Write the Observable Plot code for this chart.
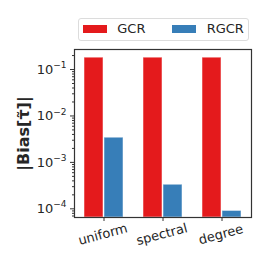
<!DOCTYPE html>
<html><head><meta charset="utf-8">
<script src="https://cdn.jsdelivr.net/npm/d3@7"></script>
<script src="https://cdn.jsdelivr.net/npm/@observablehq/plot@0.6"></script>
<style>
html,body{margin:0;padding:0;background:#fff;font-family:"DejaVu Sans",sans-serif;}
#legend{position:relative;height:45px;width:263px;}
#legend .box{position:absolute;left:77.5px;top:18px;width:171px;height:23px;border:1px solid #dcdcdc;border-radius:3px;box-sizing:border-box;}
#legend .patch{position:absolute;top:24.5px;width:24.5px;height:8px;}
#legend .lab{position:absolute;top:20.5px;font-size:13px;line-height:16px;color:#262626;}
#chart svg{display:block;}
</style>
</head><body>
<div id="legend"></div>
<div id="chart"></div>
<script>
const categories = ["uniform", "spectral", "degree"];
const series = ["GCR", "RGCR"];
const colors = ["#e41a1c", "#377eb8"];
const gcr = [0.18, 0.18, 0.18];
const rgcr = [0.0034, 0.00033, 0.00009];
const majorTicks = [1e-4, 1e-3, 1e-2, 1e-1];
const yLabel = "|Bias[τ̃]|";

const ymin = 6.5e-5, ymax = 0.27;
const rows = categories.flatMap((c, i) => [
  {category: c, series: "GCR", value: gcr[i]},
  {category: c, series: "RGCR", value: rgcr[i]}
]);

// legend
const leg = document.getElementById("legend");
const box = document.createElement("div"); box.className = "box"; leg.appendChild(box);
const lpos = [[82.7, 117.3], [171.7, 206.7]];
series.forEach((s, i) => {
  const p = document.createElement("div"); p.className = "patch";
  p.style.left = lpos[i][0] + "px"; p.style.background = colors[i]; leg.appendChild(p);
  const t = document.createElement("div"); t.className = "lab";
  t.style.left = lpos[i][1] + "px"; t.textContent = s; leg.appendChild(t);
});

const fmt = d => "10^" + Math.round(Math.log10(d));
const minorTicks = [];
for (let e = -5; e <= 0; e++) for (let k = 2; k <= 9; k++) {
  const v = k * Math.pow(10, e);
  if (v >= ymin && v <= ymax) minorTicks.push(v);
}

const chart = Plot.plot({
  width: 263, height: 218,
  marginLeft: 74, marginRight: 12, marginTop: 4, marginBottom: 46,
  style: {fontFamily: "DejaVu Sans", fontSize: "12px", color: "#262626", background: "white"},
  x: {domain: categories, paddingInner: 1/3, paddingOuter: 0.142, axis: null},
  y: {type: "log", domain: [ymin, ymax], axis: null},
  color: {domain: series, range: colors},
  marks: [
    Plot.barY(rows.filter(d => d.series === "GCR"), {x: "category", y1: ymin, y2: "value", fill: "series", insetRight: 20, stroke: "white", strokeOpacity: 0.5, strokeWidth: 1}),
    Plot.barY(rows.filter(d => d.series === "RGCR"), {x: "category", y1: ymin, y2: "value", fill: "series", insetLeft: 20, stroke: "white", strokeOpacity: 0.5, strokeWidth: 1}),
    Plot.axisY({ticks: minorTicks, tickSize: 2, tickFormat: () => "", stroke: "#333", label: null}),
    Plot.axisY({ticks: majorTicks, tickSize: 4, tickPadding: 4, tickFormat: fmt, stroke: "#333", fill: "#262626", fontSize: 13, label: null}),
    Plot.axisX({tickSize: 4, tickFormat: () => "", stroke: "#333", label: null}),
    Plot.text(categories, {x: d => d, frameAnchor: "bottom", dy: 21, rotate: -15, fontSize: 13, fill: "#262626"}),
    Plot.text([yLabel], {frameAnchor: "left", textAnchor: "middle", dx: -50.5, rotate: -90, fontSize: 16, fontWeight: "bold", fill: "#262626"}),
    Plot.frame({stroke: "#333", strokeWidth: 1.2})
  ]
});
// render exponents as superscripts
chart.querySelectorAll("text").forEach(t => {
  const s = t.textContent;
  const m = /^10\^(-?\d+)$/.exec(s);
  if (!m) return;
  t.textContent = "";
  const NS = "http://www.w3.org/2000/svg";
  const base = document.createElementNS(NS, "tspan");
  base.textContent = "10";
  const sup = document.createElementNS(NS, "tspan");
  sup.setAttribute("dy", "-5.5");
  sup.setAttribute("font-size", "9");
  sup.textContent = m[1].replace("-", "−");
  t.appendChild(base); t.appendChild(sup);
});
document.getElementById("chart").appendChild(chart);
</script>
</body></html>
